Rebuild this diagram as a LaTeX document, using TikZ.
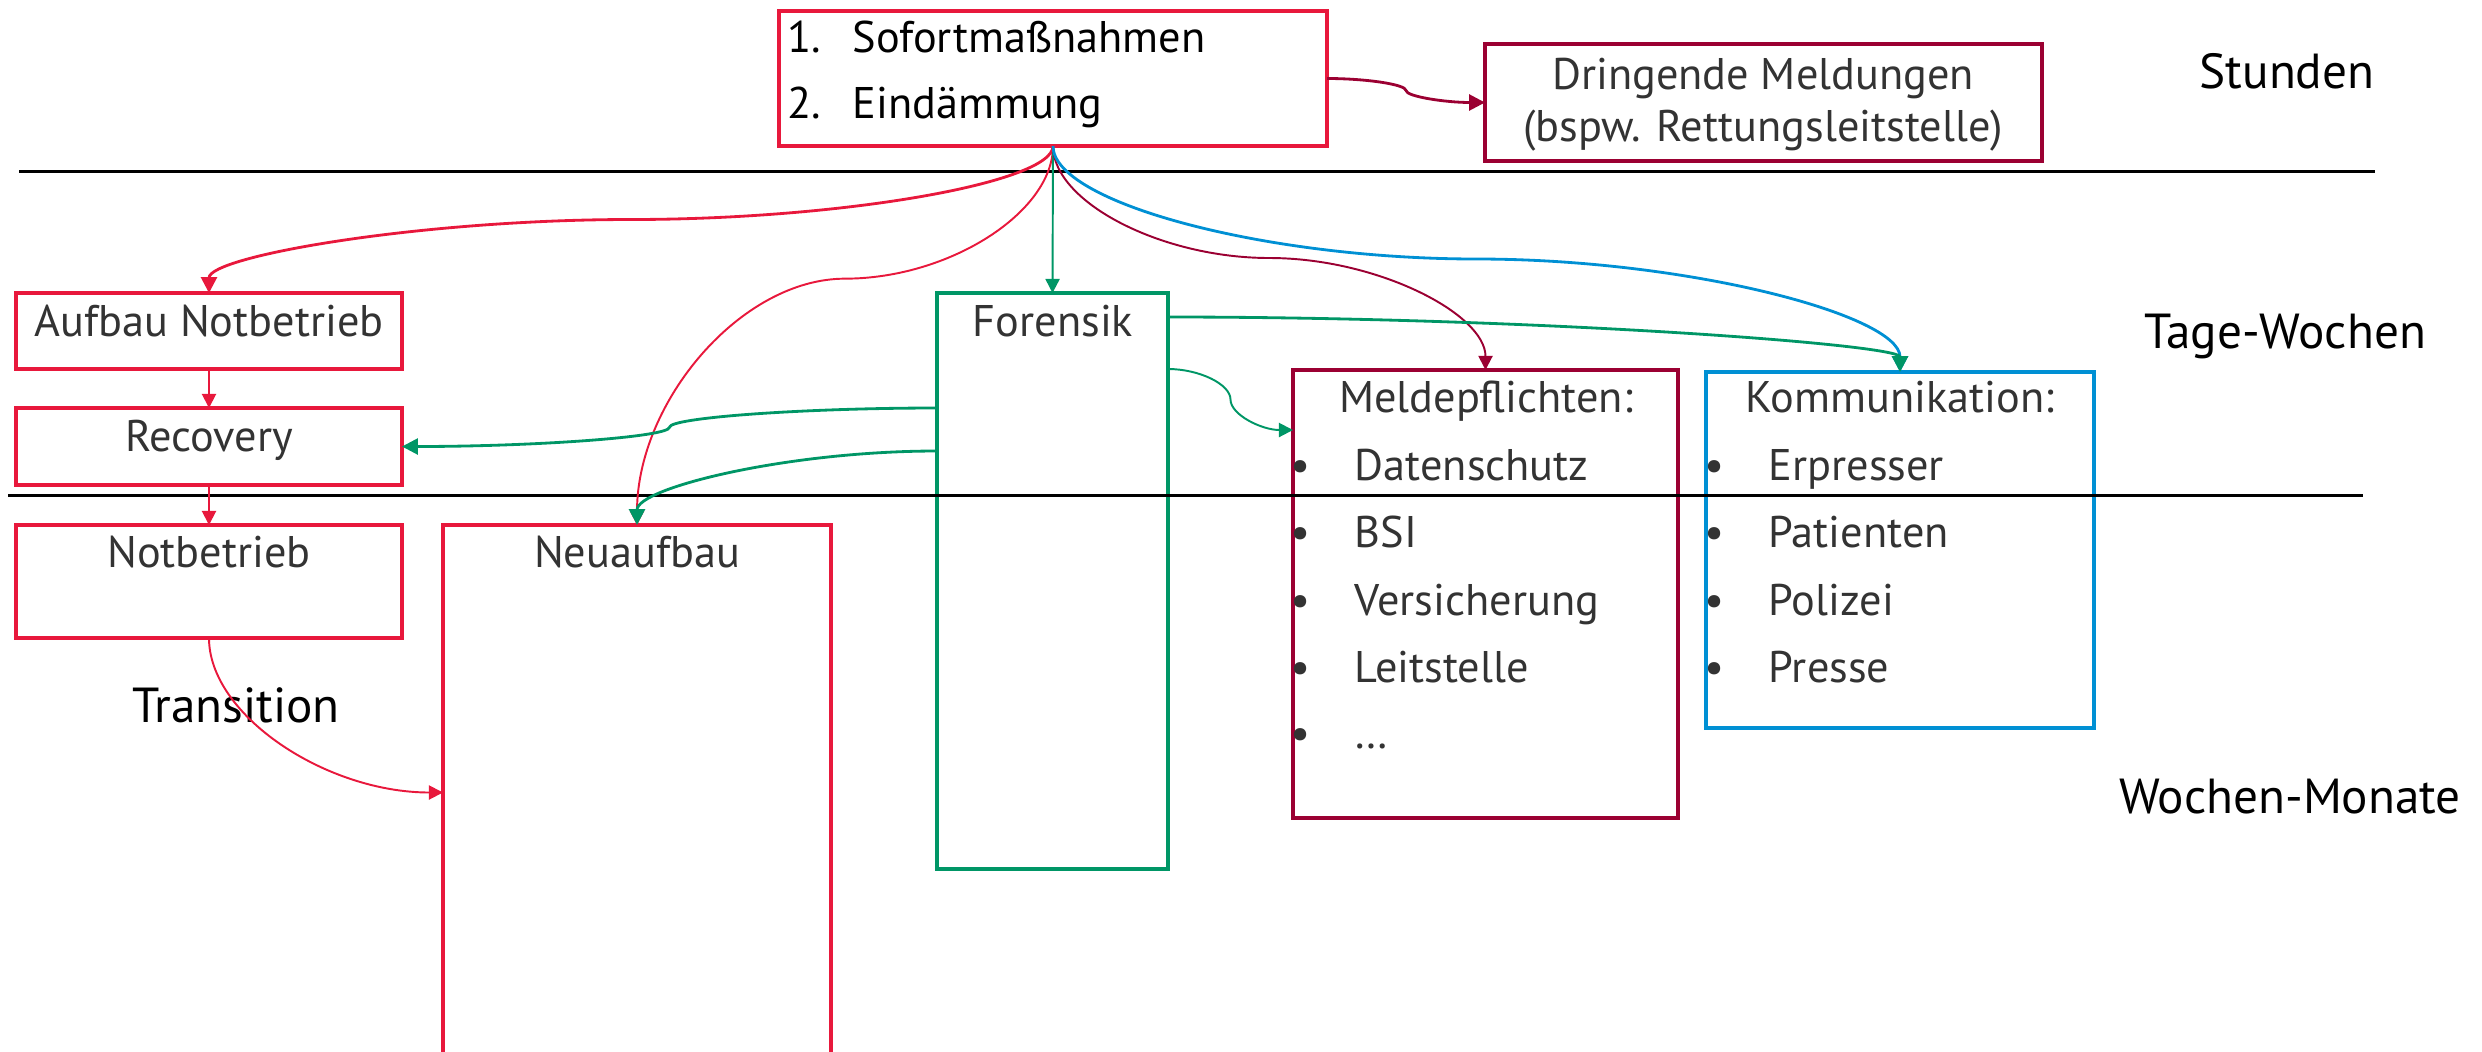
\documentclass[tikz,border=0pt]{standalone}
\usepackage{fontspec}
\setmainfont{PT Sans}
\usetikzlibrary{arrows.meta,calc,fit}

\definecolor{cred}{RGB}{232,24,60}
\definecolor{cdark}{RGB}{155,0,50}
\definecolor{cgreen}{RGB}{0,150,102}
\definecolor{cblue}{RGB}{0,144,212}
\definecolor{ctext}{RGB}{51,51,51}

\tikzset{
  frame/.style={draw=#1, line width=1.25pt, inner sep=0pt, outer sep=0pt},
  txt/.style={font=\fontsize{12.6pt}{15pt}\selectfont, text=ctext, inner sep=0pt, anchor=base},
  lbl/.style={font=\fontsize{14pt}{16pt}\selectfont, text=black, inner sep=0pt, anchor=base},
  conn/.style={draw=#1, line width=0.55pt, -{Triangle[length=4pt,width=4pt]}},
  connw/.style={draw=#1, line width=0.8pt, -{Triangle[length=4.5pt,width=4.5pt]}},
  divider/.style={draw=black, line width=0.85pt},
}

% S-shaped connector, leaving and entering vertically, level at fraction #1
\newcommand\vconn[4][0.5]{%
  \draw[#2] let \p1=(#3), \p2=(#4), \p3=($(#3)!#1!(#4)$) in
    (\p1) .. controls (\x1,{(\y1+\y3)/2}) and ({(3*\x1+\x2)/4},\y3)
          .. ({(\x1+\x2)/2},\y3)
          .. controls ({(\x1+3*\x2)/4},\y3) and (\x2,{(\y3+\y2)/2}) .. (\p2);}
% S-shaped connector, leaving and entering horizontally
\newcommand\hconn[4][0.5]{%
  \draw[#2] let \p1=(#3), \p2=(#4), \p3=($(#3)!#1!(#4)$) in
    (\p1) .. controls ({(\x1+\x3)/2},\y1) and (\x3,{(3*\y1+\y2)/4})
          .. (\x3,{(\y1+\y2)/2})
          .. controls (\x3,{(\y1+3*\y2)/4}) and ({(\x3+\x2)/2},\y2) .. (\p2);}
% elbow-like curve: vertical start, horizontal end
\newcommand\vhconn[3]{%
  \draw[#1] let \p1=(#2), \p2=(#3) in
    (\p1) .. controls (\x1,{(\y1+\y2)/2}) and ({(\x1+\x2)/2},\y2) .. (\p2);}
% elbow-like curve: horizontal start, vertical end
\newcommand\hvconn[3]{%
  \draw[#1] let \p1=(#2), \p2=(#3) in
    (\p1) .. controls ({(\x1+\x2)/2},\y1) and (\x2,{(\y1+\y2)/2}) .. (\p2);}

\begin{document}
\begin{tikzpicture}[x=0.01cm,y=-0.01cm]
\useasboundingbox (0,0) rectangle (2482,1051);
\clip (0,0) rectangle (2482,1051);

% boxes
\node[frame=cred,   fit={(779,11) (1327,146)}]  (top) {};
\node[frame=cdark,  fit={(1485,44) (2042,161)}] (dring) {};
\node[frame=cred,   fit={(16,293) (402,369)}]   (aufbau) {};
\node[frame=cred,   fit={(16,408) (402,485)}]   (recov) {};
\node[frame=cred,   fit={(16,525) (402,638)}]   (notb) {};
\node[frame=cred,   fit={(443,525) (831,1060)}] (neu) {};
\node[frame=cgreen, fit={(937,293) (1168,869)}] (foren) {};
\node[frame=cdark,  fit={(1293,370) (1678,818)}] (meld) {};
\node[frame=cblue,  fit={(1706,372) (2094,728)}] (komm) {};

% texts in the boxes
\node[txt, text=black, anchor=base west] (num1) at (787,52)  {1.};
\node[txt, text=black, anchor=base west] (st1)  at (852,52)  {Sofortmaßnahmen};
\node[txt, text=black, anchor=base west] (num2) at (787,118) {2.};
\node[txt, text=black, anchor=base west] (st2)  at (852,118) {Eindämmung};

\node[txt] (dr1) at (1763,89)  {Dringende Meldungen};
\node[txt] (dr2) at (1763,141) {(bspw. Rettungsleitstelle)};

\node[txt] (taufbau) at (209,336) {Aufbau Notbetrieb};
\node[txt] (trecov)  at (209,451) {Recovery};
\node[txt] (tnotb)   at (209,567) {Notbetrieb};
\node[txt] (tneu)    at (637,567) {Neuaufbau};
\node[txt] (tforen)  at (1053,336) {Forensik};

\node[txt] (tmeld) at (1486,412) {Meldepflichten:};
\foreach \t/\y [count=\i] in {Datenschutz/480, BSI/547, Versicherung/615, Leitstelle/682, \dots/748}{
  \node[txt] (mb\i) at (1300,\y) {•};
  \node[txt, anchor=base west] (mi\i) at (1354,\y) {\t};
}
\node[txt] (tkomm) at (1900,412) {Kommunikation:};
\foreach \t/\y [count=\i] in {Erpresser/480, Patienten/547, Polizei/615, Presse/682}{
  \node[txt] (kb\i) at (1714,\y) {•};
  \node[txt, anchor=base west] (ki\i) at (1768,\y) {\t};
}

% time scale
\node[lbl] (stunden) at (2287,88)  {Stunden};
\node[lbl] (tage)    at (2285,348) {Tage-Wochen};
\node[lbl] (monate)  at (2290,813) {Wochen-Monate};
\node[lbl] (trans)   at (236,722)  {Transition};

\draw[divider] (19,171) -- (2375,171);
\draw[divider] (8,495) -- (2363,495);

% connectors
\hconn{connw=cdark}{top.east}{dring.west}
\vconn{connw=cred}{top.south}{aufbau.north}
\vconn[0.35]{conn=cred}{top.south}{neu.north}
\draw[conn=cgreen] (top.south) -- (foren.north);
\vconn{conn=cdark}{top.south}{meld.north}
\vconn{connw=cblue}{top.south}{komm.north}

\draw[conn=cred] (aufbau.south) -- (recov.north);
\draw[conn=cred] (recov.south) -- (notb.north);
\vhconn{conn=cred}{notb.south}{neu.west}

\hconn{connw=cgreen}{$(foren.north west)+(0,115)$}{recov.east}
\hvconn{connw=cgreen}{$(foren.north west)+(0,158)$}{neu.north}
\hconn{conn=cgreen}{$(foren.north east)+(0,76)$}{$(meld.north west)+(0,60)$}
\hvconn{connw=cgreen}{$(foren.north east)+(0,24)$}{komm.north}
\end{tikzpicture}
\end{document}
